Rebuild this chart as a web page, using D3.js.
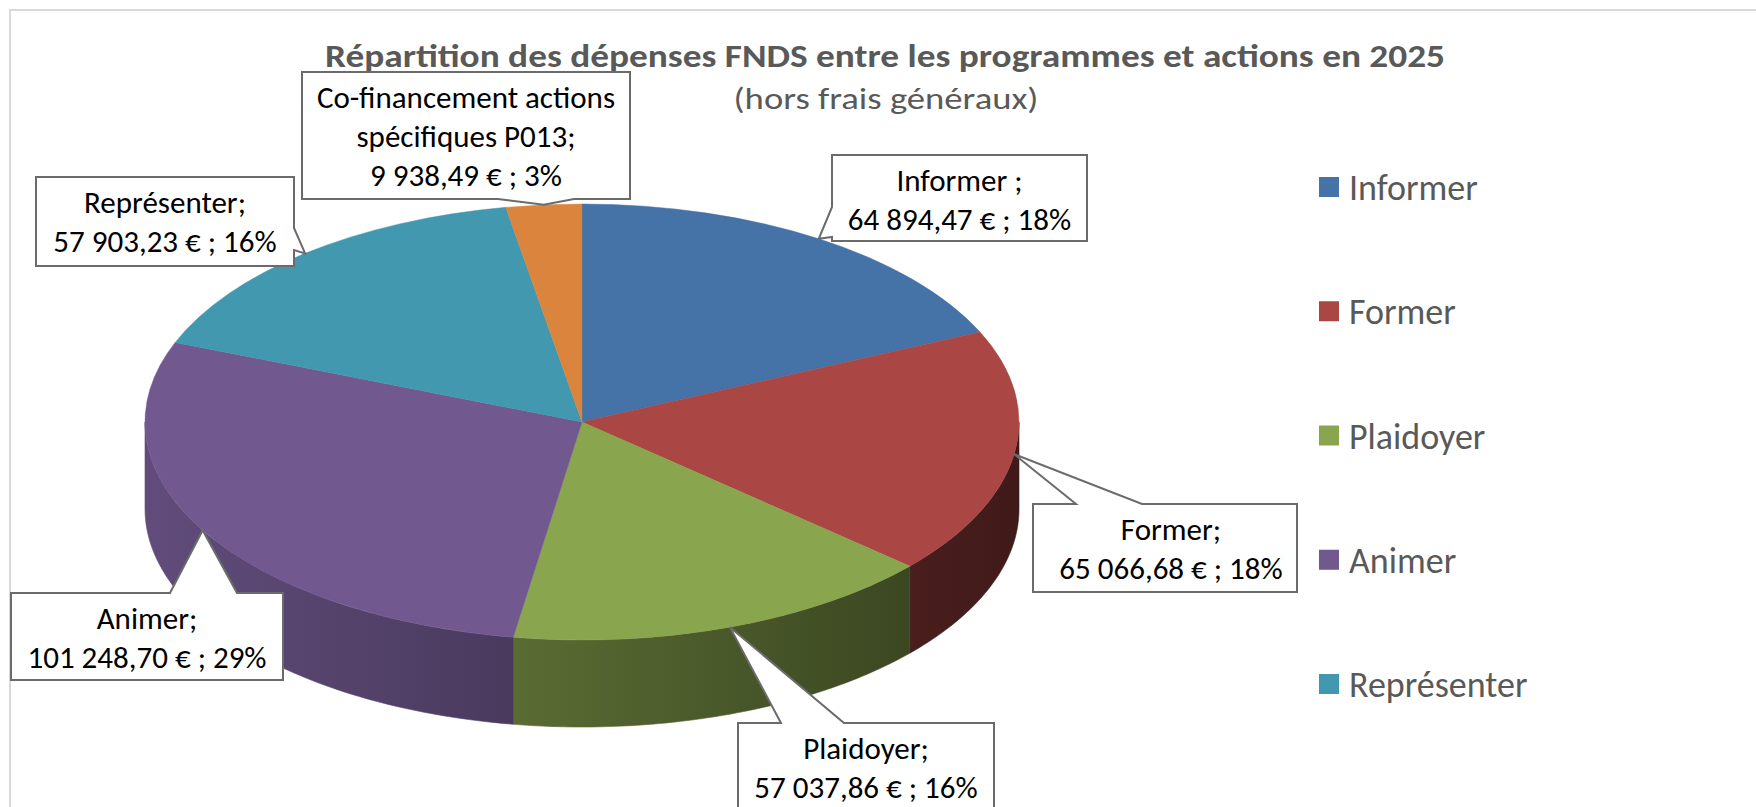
<!DOCTYPE html>
<html>
<head>
<meta charset="utf-8">
<script src="https://cdn.jsdelivr.net/npm/d3@7"></script>
<style>
  body { margin: 0; background: #fff; }
  svg { display: block; }
</style>
</head>
<body>
<svg id="chart" width="1756" height="807"></svg>
<script>
// data
var categories = ["Informer", "Former", "Plaidoyer", "Animer", "Représenter", "Co-financement actions spécifiques P013"];
var amounts = [64894.47, 65066.68, 57037.86, 101248.70, 57903.23, 9938.49];
var percents = ["18%", "18%", "16%", "29%", "16%", "3%"];
var labelHeads = [["Informer ;"], ["Former;"], ["Plaidoyer;"], ["Animer;"], ["Représenter;"], ["Co-financement actions", "spécifiques P013;"]];
var colors = ["#4572A7", "#AA4643", "#89A54E", "#71588F", "#4198AF", "#DB843D"];
var legendItems = categories.slice(0, 5);

var title = "Répartition des dépenses FNDS entre les programmes et actions en 2025";
var subtitle = "(hors frais généraux)";

var svg = d3.select("#chart");
var font = "Carlito, Calibri, Lato, sans-serif";

// chart frame
svg.append("rect")
    .attr("x", 10).attr("y", 10)
    .attr("width", 1800).attr("height", 1000)
    .attr("fill", "none")
    .attr("stroke", "#d9d9d9")
    .attr("stroke-width", 2);

svg.append("text")
    .attr("x", 885).attr("y", 67)
    .attr("text-anchor", "middle")
    .attr("font-family", font)
    .attr("font-weight", "bold")
    .attr("font-size", 32)
    .attr("fill", "#595959")
    .attr("textLength", 1120)
    .attr("lengthAdjust", "spacingAndGlyphs")
    .text(title);

svg.append("text")
    .attr("x", 886).attr("y", 109)
    .attr("text-anchor", "middle")
    .attr("font-family", font)
    .attr("font-weight", 300)
    .attr("font-size", 30)
    .attr("fill", "#595959")
    .attr("textLength", 305)
    .attr("lengthAdjust", "spacingAndGlyphs")
    .text(subtitle);

// 3d pie geometry
var cx = 582, cy = 422, rx = 437, ry = 218, depth = 87;

var data = categories.map(function(c, i) {
    return {name: c, value: amounts[i], pct: percents[i], head: labelHeads[i], color: colors[i]};
});

var pie = d3.pie().sort(null).value(function(d) { return d.value; });
var arcs = pie(data);

function rimX(a) { return cx + rx * Math.sin(a); }
function rimY(a) { return cy - ry * Math.cos(a); }

var defs = svg.append("defs");

// side walls (only the front half shows)
arcs.forEach(function(d, i) {
    var a0 = Math.max(d.startAngle, Math.PI / 2);
    var a1 = Math.min(d.endAngle, Math.PI * 3 / 2);
    if (a0 >= a1) return;

    var base = d3.rgb(d.data.color);
    var grad = defs.append("linearGradient")
        .attr("id", "side" + i)
        .attr("gradientUnits", "userSpaceOnUse")
        .attr("x1", cx - rx).attr("x2", cx + rx)
        .attr("y1", 0).attr("y2", 0);
    [[0, 0.86], [1, 0.37]].forEach(function(s) {
        grad.append("stop")
            .attr("offset", s[0])
            .attr("stop-color", d3.rgb(base.r * s[1], base.g * s[1], base.b * s[1]));
    });

    var steps = 60;
    var p = d3.path();
    d3.range(steps + 1).forEach(function(k) {
        var a = a0 + (a1 - a0) * k / steps;
        if (k === 0) p.moveTo(rimX(a), rimY(a));
        else p.lineTo(rimX(a), rimY(a));
    });
    d3.range(steps, -1, -1).forEach(function(k) {
        var a = a0 + (a1 - a0) * k / steps;
        p.lineTo(rimX(a), rimY(a) + depth);
    });
    p.closePath();

    svg.append("path")
        .attr("d", p.toString())
        .attr("fill", "url(#side" + i + ")")
        .attr("stroke", "url(#side" + i + ")")
        .attr("stroke-width", 0.6);
});

// top faces
var arc = d3.arc().innerRadius(0).outerRadius(rx);
svg.append("g")
    .attr("transform", "translate(" + cx + "," + cy + ") scale(1," + (ry / rx) + ")")
    .selectAll("path")
    .data(arcs)
    .enter()
    .append("path")
    .attr("d", arc)
    .attr("fill", function(d) { return d.data.color; })
    .attr("stroke", function(d) { return d.data.color; })
    .attr("stroke-width", 0.6);

// callout labels
var frFormat = d3.formatLocale({decimal: ",", thousands: "\u00a0", grouping: [3], currency: ["", "\u00a0€"]}).format(",.2f");

var callouts = [
    {x: 832, y: 155, w: 255, h: 86, edge: "left", n0: 207, n1: 237, dx: 0},
    {x: 1033, y: 504, w: 264, h: 88, edge: "top", n0: 1076, n1: 1142, dx: 6},
    {x: 738, y: 723, w: 256, h: 120, edge: "top", n0: 781, n1: 844, dx: 0},
    {x: 11, y: 593, w: 272, h: 87, edge: "top", n0: 170, n1: 237, dx: 0},
    {x: 36, y: 177, w: 258, h: 89, edge: "right", n0: 228, n1: 250, dx: 0},
    {x: 302, y: 72, w: 328, h: 127, edge: "bottom", n0: 498, n1: 574, dx: 0}
];

function calloutPath(b, tip) {
    var p = d3.path();
    p.moveTo(b.x, b.y);
    if (b.edge === "top") { p.lineTo(b.n0, b.y); p.lineTo(tip[0], tip[1]); p.lineTo(b.n1, b.y); }
    p.lineTo(b.x + b.w, b.y);
    if (b.edge === "right") { p.lineTo(b.x + b.w, b.n0); p.lineTo(tip[0], tip[1]); p.lineTo(b.x + b.w, b.n1); }
    p.lineTo(b.x + b.w, b.y + b.h);
    if (b.edge === "bottom") { p.lineTo(b.n1, b.y + b.h); p.lineTo(tip[0], tip[1]); p.lineTo(b.n0, b.y + b.h); }
    p.lineTo(b.x, b.y + b.h);
    if (b.edge === "left") { p.lineTo(b.x, b.n1); p.lineTo(tip[0], tip[1]); p.lineTo(b.x, b.n0); }
    p.closePath();
    return p.toString();
}

var labels = svg.selectAll("g.callout")
    .data(arcs)
    .enter()
    .append("g")
    .attr("class", "callout");

labels.append("path")
    .attr("d", function(d, i) {
        var mid = (d.startAngle + d.endAngle) / 2;
        return calloutPath(callouts[i], [rimX(mid), rimY(mid)]);
    })
    .attr("fill", "#fff")
    .attr("stroke", "#6b6b6b")
    .attr("stroke-width", 2)
    .attr("stroke-linejoin", "miter");

labels.each(function(d, i) {
    var b = callouts[i];
    var lines = d.data.head.concat([frFormat(d.data.value) + " € ; " + d.data.pct]);
    d3.select(this).selectAll("text")
        .data(lines)
        .enter()
        .append("text")
        .attr("x", b.x + b.w / 2 + b.dx)
        .attr("y", function(t, k) { return b.y + 36 + 39 * k; })
        .attr("text-anchor", "middle")
        .attr("font-family", font)
        .attr("font-size", 31)
        .attr("fill", "#000")
        .text(function(t) { return t; });
});

// legend
var ly = d3.scalePoint().domain(legendItems).range([187, 684]);
var legend = svg.selectAll("g.legend")
    .data(legendItems)
    .enter()
    .append("g")
    .attr("class", "legend")
    .attr("transform", function(d) { return "translate(1319," + ly(d) + ")"; });

legend.append("rect")
    .attr("x", 0).attr("y", -10)
    .attr("width", 20).attr("height", 20)
    .attr("fill", function(d, i) { return colors[i]; });

legend.append("text")
    .attr("x", 30).attr("y", 13)
    .attr("font-family", font)
    .attr("font-size", 36)
    .attr("fill", "#595959")
    .text(function(d) { return d; });
</script>
</body>
</html>
